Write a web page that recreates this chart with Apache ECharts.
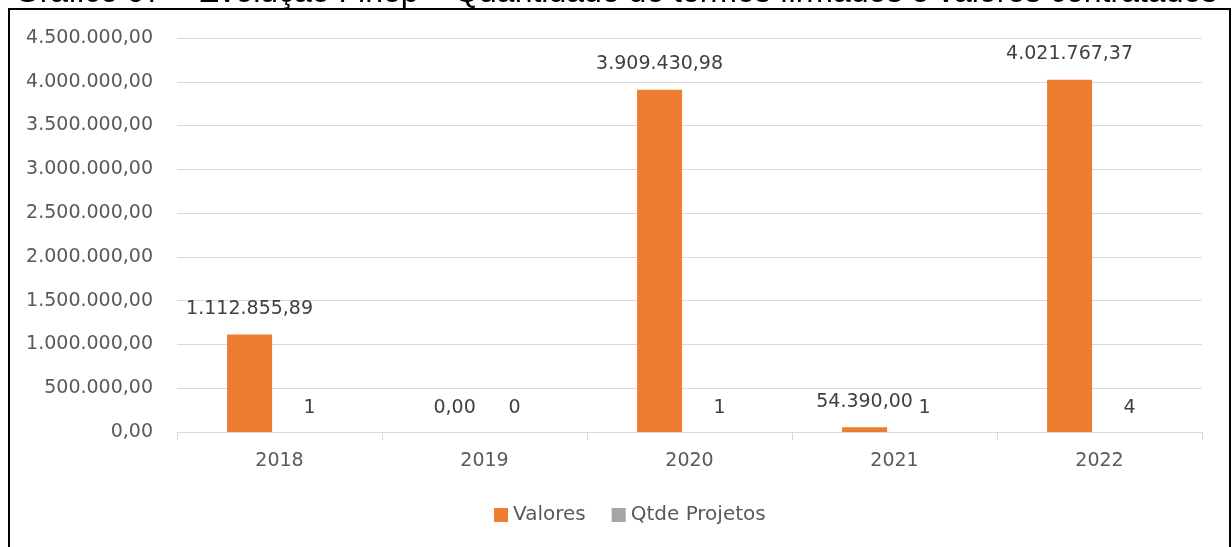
<!DOCTYPE html>
<html>
<head>
<meta charset="utf-8">
<script src="https://cdn.jsdelivr.net/npm/echarts@6/dist/echarts.min.js"></script>
<style>
    html, body { margin: 0; padding: 0; background: #fff; }
    #chart { width: 1232px; height: 547px; }
</style>
</head>
<body>
<div id="chart"></div>
<script>
// dados do gráfico
var anos = ['2018', '2019', '2020', '2021', '2022'];
var valores = [1112855.89, 0, 3909430.98, 54390.00, 4021767.37];
var qtdeProjetos = [1, 0, 1, 1, 4];
var titulo = 'Gráfico 07 – Evolução Finep – Quantidade de termos firmados e valores contratados';

// formata número no padrão brasileiro: 1.234.567,89
function fmtBR(v) {
    var s = v.toFixed(2).split('.');
    var inteiro = s[0].replace(/\B(?=(\d{3})+(?!\d))/g, '.');
    return inteiro + ',' + s[1];
}

var fonte = 'DejaVu Sans';
var myChart = echarts.init(document.getElementById('chart'));

// rótulo do valor zero fica um pouco mais baixo, como no original
var dadosValores = valores.map(function (v) {
    return v === 0 ? { value: v, label: { distance: 14 } } : v;
});

var option = {
    animation: false,
    textStyle: { fontFamily: fonte },
    graphic: [
        {
            type: 'text',
            left: 'center',
            top: -23,
            style: {
                text: titulo,
                font: '32px "Liberation Sans"',
                fill: '#000'
            }
        },
        {
            type: 'rect',
            shape: { x: 9, y: 9, width: 1221, height: 560 },
            style: { fill: 'none', stroke: '#000', lineWidth: 2 }
        }
    ],
    legend: {
        bottom: 17,
        left: 489,
        itemWidth: 14,
        itemHeight: 14,
        itemGap: 26,
        icon: 'rect',
        textStyle: { fontSize: 20, color: '#595959', fontFamily: fonte },
        data: ['Valores', 'Qtde Projetos']
    },
    grid: { left: 177, right: 30, top: 38, bottom: 115 },
    xAxis: {
        type: 'category',
        data: anos,
        axisLine: { lineStyle: { color: '#d9d9d9', width: 1 } },
        axisTick: { show: true, length: 8, lineStyle: { color: '#d9d9d9' } },
        axisLabel: { fontSize: 19, color: '#595959', margin: 20 }
    },
    yAxis: {
        type: 'value',
        min: 0,
        max: 4500000,
        interval: 500000,
        axisLine: { show: false },
        axisTick: { show: false },
        splitLine: { lineStyle: { color: '#d9d9d9', width: 1 } },
        axisLabel: {
            fontSize: 19, color: '#595959', margin: 24,
            formatter: function (v) { return fmtBR(v); }
        }
    },
    series: [
        {
            name: 'Valores',
            type: 'bar',
            data: dadosValores,
            barWidth: 45,
            barGap: '33%',
            itemStyle: { color: '#ed7d31' },
            label: {
                show: true,
                position: 'top',
                distance: 16,
                fontSize: 19,
                color: '#404040',
                formatter: function (p) { return fmtBR(p.value); }
            }
        },
        {
            name: 'Qtde Projetos',
            type: 'bar',
            data: qtdeProjetos,
            barWidth: 45,
            itemStyle: { color: '#a5a5a5' },
            label: {
                show: true,
                position: 'top',
                distance: 14,
                fontSize: 19,
                color: '#404040'
            }
        }
    ]
};

myChart.setOption(option);
</script>
</body>
</html>
